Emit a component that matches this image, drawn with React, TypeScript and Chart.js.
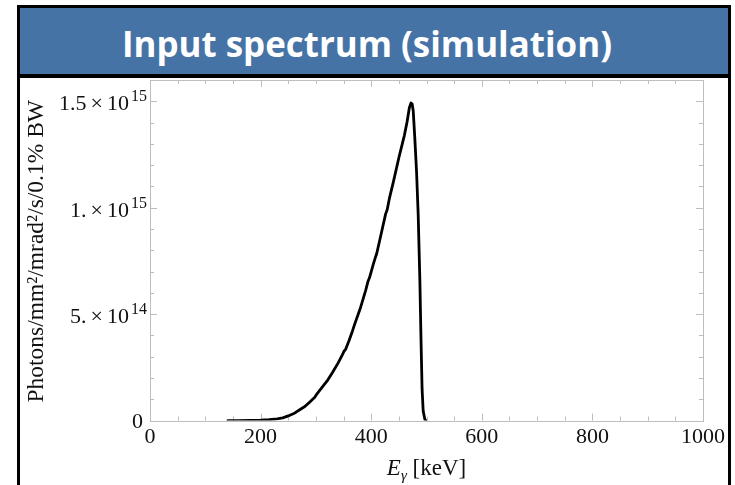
import React, { useEffect, useRef, useMemo } from "react";
import { Chart, registerables } from "chart.js";

Chart.register(...registerables);

// ---- data ----
const ENERGY_KEV = [
  141, 160, 180, 200, 215, 230, 240, 250, 260, 270,
  280, 290, 298, 302, 310, 320, 330, 340, 348, 351,
  354, 360, 366, 370, 380, 390, 394, 397, 404, 408,
  410, 420, 426, 429, 433, 440, 450, 460, 465, 469,
  472, 474, 476, 479, 482, 485, 488, 490, 492, 494,
  497, 499,
];
const PHOTON_FLUX = [
  0, 0, 0.001e15, 0.002e15, 0.004e15, 0.008e15, 0.013e15, 0.022e15, 0.033e15, 0.05e15,
  0.066e15, 0.09e15, 0.11e15, 0.126e15, 0.152e15, 0.185e15, 0.226e15, 0.27e15, 0.31e15, 0.326e15,
  0.336e15, 0.376e15, 0.42e15, 0.452e15, 0.525e15, 0.612e15, 0.652e15, 0.672e15, 0.736e15, 0.77e15,
  0.785e15, 0.9e15, 0.97e15, 0.992e15, 1.045e15, 1.12e15, 1.235e15, 1.34e15, 1.405e15, 1.47e15,
  1.492e15, 1.488e15, 1.455e15, 1.32e15, 1.17e15, 0.965e15, 0.66e15, 0.39e15, 0.15e15, 0.045e15,
  0.006e15, 0,
];

const X_MIN = 0;
const X_MAX = 1000;
const Y_MIN = 0;
const Y_MAX = 1.6e15;

const X_MAJOR_TICKS = [0, 200, 400, 600, 800, 1000];
const X_MINOR_TICKS = [50, 100, 150, 250, 300, 350, 450, 500, 550, 650, 700, 750, 850, 900, 950];
const Y_MAJOR_TICKS = [0, 5e14, 1e15, 1.5e15];
const Y_MINOR_TICKS = [1e14, 2e14, 3e14, 4e14, 6e14, 7e14, 8e14, 9e14, 1.1e15, 1.2e15, 1.3e15, 1.4e15];
const Y_TICK_MANTISSA = ["0", "5.", "1.", "1.5"];
const Y_TICK_EXPONENT = ["", "14", "15", "15"];

const TITLE_TEXT = "Input spectrum (simulation)";
const Y_TITLE = "Photons/mm\u00B2/mrad\u00B2/s/0.1% BW";
const X_TITLE_MAIN = "E";
const X_TITLE_SUB = "\u03B3";
const X_TITLE_REST = " [keV]";

const SERIF = "'Liberation Serif', 'Times New Roman', serif";
const FRAME_COLOR = "#bdbdbd";
const TEXT_COLOR = "#111";

const framePlugin = {
  id: "mmaFrame",
  beforeDatasetsDraw(chart: any) {
    const { ctx, chartArea: a, scales } = chart;
    const xs = scales.x;
    const ys = scales.y;
    ctx.save();
    ctx.strokeStyle = FRAME_COLOR;
    ctx.lineWidth = 1;
    ctx.strokeRect(Math.round(a.left) + 0.5, Math.round(a.top) + 0.5, Math.round(a.right - a.left), Math.round(a.bottom - a.top));
    const drawX = (v: number, len: number) => {
      const px = Math.round(xs.getPixelForValue(v)) + 0.5;
      ctx.beginPath();
      ctx.moveTo(px, a.bottom);
      ctx.lineTo(px, a.bottom - len);
      ctx.moveTo(px, a.top);
      ctx.lineTo(px, a.top + len);
      ctx.stroke();
    };
    const drawY = (v: number, len: number) => {
      const py = Math.round(ys.getPixelForValue(v)) + 0.5;
      ctx.beginPath();
      ctx.moveTo(a.left, py);
      ctx.lineTo(a.left + len, py);
      ctx.moveTo(a.right, py);
      ctx.lineTo(a.right - len, py);
      ctx.stroke();
    };
    X_MAJOR_TICKS.forEach((v) => drawX(v, 7));
    X_MINOR_TICKS.forEach((v) => drawX(v, 4));
    Y_MAJOR_TICKS.forEach((v) => drawY(v, 7));
    Y_MINOR_TICKS.forEach((v) => drawY(v, 4));
    ctx.restore();
  },
  afterDraw(chart: any) {
    const { ctx, chartArea: a, scales } = chart;
    const ys = scales.y;
    ctx.save();
    ctx.fillStyle = TEXT_COLOR;
    ctx.textBaseline = "alphabetic";
    ctx.textAlign = "left";
    const baseFont = `22px ${SERIF}`;
    const supFont = `16px ${SERIF}`;
    Y_MAJOR_TICKS.forEach((v, i) => {
      const py = ys.getPixelForValue(v);
      const mant = Y_TICK_MANTISSA[i];
      const exp = Y_TICK_EXPONENT[i];
      if (!exp) {
        ctx.font = baseFont;
        const w = ctx.measureText(mant).width;
        ctx.fillText(mant, a.left - 7 - w, py + 7);
        return;
      }
      ctx.font = baseFont;
      const wM = ctx.measureText(mant).width;
      const wX = ctx.measureText("\u00D7").width;
      const w10 = ctx.measureText("10").width;
      ctx.font = supFont;
      const wE = ctx.measureText(exp).width;
      const gap = 4;
      const total = wM + gap + wX + gap + w10 + 2 + wE;
      let x0 = a.left - 3 - total;
      ctx.font = baseFont;
      ctx.fillText(mant, x0, py + 9);
      x0 += wM + gap;
      ctx.fillText("\u00D7", x0, py + 9);
      x0 += wX + gap;
      ctx.fillText("10", x0, py + 9);
      x0 += w10 + 2;
      ctx.font = supFont;
      ctx.fillText(exp, x0, py + 0);
    });

    // y-axis title
    ctx.save();
    ctx.translate(17, (a.top + a.bottom) / 2 + 1);
    ctx.rotate(-Math.PI / 2);
    ctx.font = `23.5px ${SERIF}`;
    ctx.textAlign = "center";
    ctx.textBaseline = "middle";
    ctx.fillText(Y_TITLE, 0, 0);
    ctx.restore();

    // x-axis title
    const mainFont = `italic 23px ${SERIF}`;
    const subFont = `italic 15px ${SERIF}`;
    const restFont = `23px ${SERIF}`;
    ctx.font = mainFont;
    const w1 = ctx.measureText(X_TITLE_MAIN).width;
    ctx.font = subFont;
    const w2 = ctx.measureText(X_TITLE_SUB).width;
    ctx.font = restFont;
    const w3 = ctx.measureText(X_TITLE_REST).width;
    const totalW = w1 + w2 + w3;
    let xx = (a.left + a.right) / 2 - totalW / 2;
    const base = chart.height - 10;
    ctx.textAlign = "left";
    ctx.textBaseline = "alphabetic";
    ctx.font = mainFont;
    ctx.fillText(X_TITLE_MAIN, xx, base);
    xx += w1;
    ctx.font = subFont;
    ctx.fillText(X_TITLE_SUB, xx, base + 5);
    xx += w2;
    ctx.font = restFont;
    ctx.fillText(X_TITLE_REST, xx, base);
    ctx.restore();
  },
};

function SpectrumChart() {
  const ref = useRef<HTMLCanvasElement | null>(null);
  useEffect(() => {
    if (!ref.current) return;
    const chart = new Chart(ref.current, {
      type: "line",
      data: {
        datasets: [
          {
            data: ENERGY_KEV.map((e, i) => ({ x: e, y: PHOTON_FLUX[i] })),
            borderColor: "#000",
            borderWidth: 2.8,
            pointRadius: 0,
            tension: 0,
            fill: false,
            borderJoinStyle: "round",
            borderCapStyle: "round",
          } as any,
        ],
      },
      options: {
        animation: false,
        responsive: false,
        maintainAspectRatio: false,
        layout: { padding: { left: 130, right: 23, top: 2, bottom: 32 } },
        plugins: {
          legend: { display: false },
          tooltip: { enabled: false },
          title: { display: false },
        },
        scales: {
          x: {
            type: "linear",
            min: X_MIN,
            max: X_MAX,
            afterBuildTicks: (s: any) => {
              s.ticks = X_MAJOR_TICKS.map((v) => ({ value: v }));
            },
            ticks: {
              autoSkip: false,
              maxRotation: 0,
              padding: 3,
              color: TEXT_COLOR,
              font: { family: SERIF, size: 22 },
              callback: (v: any) => String(v),
            },
            grid: { display: false, drawTicks: false },
            border: { display: false },
          },
          y: {
            type: "linear",
            display: false,
            min: Y_MIN,
            max: Y_MAX,
          },
        },
      },
      plugins: [framePlugin],
    });
    return () => chart.destroy();
  }, []);
  return <canvas ref={ref} width={708} height={407} style={{ position: "absolute", left: 20, top: 78, width: 708, height: 407 }} />;
}

export default function App() {
  const scale = useMemo(() => {
    try {
      const c = document.createElement("canvas");
      const ctx = c.getContext("2d");
      if (!ctx) return 0.84;
      ctx.font = "bold 36px 'Open Sans'";
      const w = ctx.measureText(TITLE_TEXT).width;
      return w > 0 ? 490 / w : 0.84;
    } catch {
      return 0.84;
    }
  }, []);
  return (
    <div style={{ position: "absolute", left: 0, top: 0, width: 735, height: 485, overflow: "hidden", background: "#fff" }}>
      <div
        style={{
          position: "absolute",
          left: 17,
          top: 5,
          width: 714,
          height: 72,
          boxSizing: "border-box",
          border: "3px solid #000",
          background: "#4673a6",
        }}
      />
      <div
        style={{
          position: "absolute",
          left: 367,
          top: 26,
          fontFamily: "'Open Sans', sans-serif",
          fontWeight: 700,
          fontSize: 36,
          lineHeight: "36px",
          color: "#fff",
          whiteSpace: "nowrap",
          transform: `translateX(-50%) scaleX(${scale})`,
        }}
      >
        {TITLE_TEXT}
      </div>
      <div
        style={{
          position: "absolute",
          left: 17,
          top: 75,
          width: 714,
          height: 430,
          boxSizing: "border-box",
          border: "3px solid #000",
          background: "#fff",
        }}
      />
      <SpectrumChart />
    </div>
  );
}
